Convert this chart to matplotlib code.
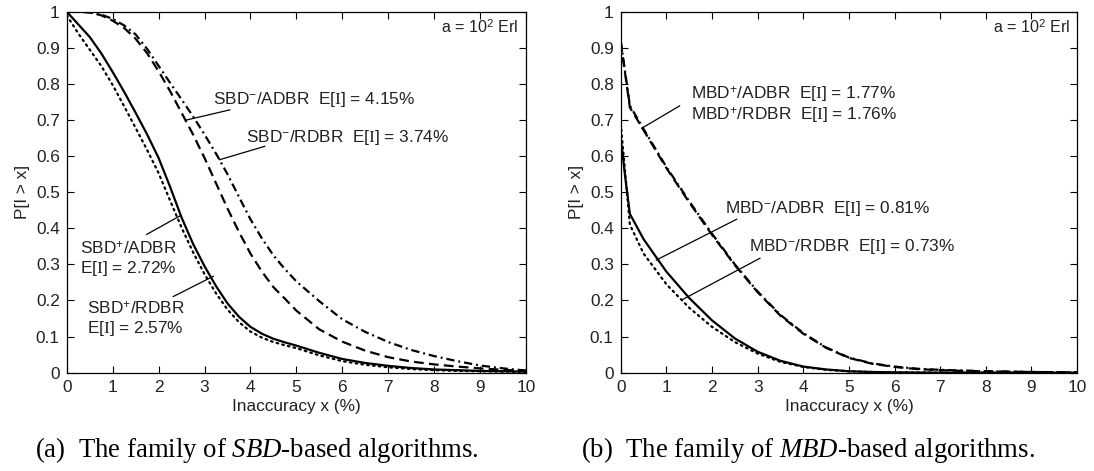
import matplotlib
matplotlib.use("Agg")
import matplotlib.pyplot as plt

# ---- data -----------------------------------------------------------------
x_sbd = [0, 0.25, 0.5, 0.75, 1, 1.25, 1.5, 1.75, 2, 2.25, 2.5, 2.75, 3, 3.25,
         3.5, 3.75, 4, 4.25, 4.5, 4.75, 5, 5.5, 6, 6.5, 7, 7.5, 8, 8.5, 9, 9.5, 10]
sbd_plus_adbr = [1.0, 0.965, 0.93, 0.885, 0.833, 0.778, 0.72, 0.66, 0.595, 0.515,
                 0.43, 0.357, 0.295, 0.24, 0.192, 0.155, 0.127, 0.108, 0.094,
                 0.084, 0.075, 0.055, 0.038, 0.027, 0.019, 0.013, 0.009, 0.007,
                 0.005, 0.004, 0.003]
sbd_plus_rdbr = [0.99, 0.94, 0.895, 0.85, 0.797, 0.738, 0.678, 0.617, 0.553, 0.477,
                 0.402, 0.334, 0.273, 0.22, 0.175, 0.14, 0.114, 0.097, 0.085,
                 0.076, 0.068, 0.048, 0.032, 0.022, 0.015, 0.010, 0.007, 0.005,
                 0.004, 0.003, 0.002]
sbd_minus_adbr = [1.0, 1.0, 0.998, 0.99, 0.975, 0.955, 0.925, 0.885, 0.835, 0.78,
                  0.72, 0.66, 0.595, 0.525, 0.455, 0.39, 0.33, 0.28, 0.237,
                  0.205, 0.172, 0.12, 0.086, 0.061, 0.043, 0.031, 0.023, 0.017,
                  0.012, 0.008, 0.005]
sbd_minus_rdbr = [1.0, 1.0, 0.998, 0.992, 0.98, 0.962, 0.937, 0.897, 0.85, 0.803,
                  0.757, 0.71, 0.66, 0.607, 0.55, 0.487, 0.425, 0.372, 0.325,
                  0.287, 0.253, 0.198, 0.148, 0.113, 0.085, 0.063, 0.046, 0.032,
                  0.02, 0.012, 0.006]

x_mbd = [0, 0.1, 0.2, 0.5, 1, 1.5, 2, 2.5, 3, 3.5, 4, 4.5, 5, 5.5, 6, 6.5, 7,
         7.5, 8, 8.5, 9, 9.5, 10]
mbd_plus_adbr = [0.92, 0.83, 0.74, 0.675, 0.57, 0.475, 0.385, 0.30, 0.225, 0.16,
                 0.11, 0.07, 0.042, 0.026, 0.017, 0.011, 0.008, 0.006, 0.004,
                 0.003, 0.002, 0.0015, 0.001]
mbd_plus_rdbr = [0.915, 0.825, 0.735, 0.672, 0.567, 0.472, 0.382, 0.298, 0.223, 0.158,
                 0.108, 0.069, 0.041, 0.025, 0.016, 0.010, 0.007, 0.005, 0.004,
                 0.003, 0.002, 0.0015, 0.001]
mbd_minus_adbr = [0.65, 0.54, 0.44, 0.37, 0.28, 0.207, 0.145, 0.095, 0.058, 0.033,
                  0.017, 0.009, 0.004, 0.002, 0.001, 0.0005, 0, 0, 0, 0, 0, 0, 0]
mbd_minus_rdbr = [0.69, 0.55, 0.41, 0.33, 0.245, 0.18, 0.127, 0.085, 0.053, 0.03,
                  0.016, 0.008, 0.004, 0.002, 0.001, 0.0005, 0, 0, 0, 0, 0, 0, 0]

x_ticks = list(range(0, 11))
y_ticks = [0, 0.1, 0.2, 0.3, 0.4, 0.5, 0.6, 0.7, 0.8, 0.9, 1]
y_ticklabels = ["0", "0.1", "0.2", "0.3", "0.4", "0.5", "0.6", "0.7", "0.8", "0.9", "1"]

# ---- style ----------------------------------------------------------------
plt.rcParams["font.family"] = ["Liberation Sans", "DejaVu Sans"]
plt.rcParams["mathtext.fontset"] = "custom"
plt.rcParams["mathtext.rm"] = "Liberation Serif"
plt.rcParams["mathtext.it"] = "Liberation Serif:italic"
plt.rcParams["mathtext.sf"] = "Liberation Sans"
plt.rcParams["lines.scale_dashes"] = False

TXT = "#222222"
FS = 12.4
LW = 1.6
styles = {
    "solid": dict(ls="-"),
    "dotted": dict(ls=(0, (1.2, 3.0)), dash_capstyle="round"),
    "dashed": dict(ls=(0, (7.0, 3.8))),
    "dashdot": dict(ls=(0, (6.0, 2.8, 1.4, 2.8))),
}

fig = plt.figure(figsize=(10.94, 4.71), dpi=100)
ax1 = fig.add_axes([0.0610, 0.2087, 0.4198, 0.7665])
ax2 = fig.add_axes([0.5674, 0.2087, 0.4171, 0.7665])

ax1.plot(x_sbd, sbd_plus_adbr, color="k", lw=LW, **styles["solid"])
ax1.plot(x_sbd, sbd_plus_rdbr, color="k", lw=LW, **styles["dotted"])
ax1.plot(x_sbd, sbd_minus_adbr, color="k", lw=LW, **styles["dashed"])
ax1.plot(x_sbd, sbd_minus_rdbr, color="k", lw=LW, **styles["dashdot"])

ax2.plot(x_mbd, mbd_minus_adbr, color="k", lw=LW, **styles["solid"])
ax2.plot(x_mbd, mbd_minus_rdbr, color="k", lw=LW, **styles["dotted"])
ax2.plot(x_mbd, mbd_plus_rdbr, color="k", lw=LW, **styles["dashed"])
ax2.plot(x_mbd, mbd_plus_adbr, color="k", lw=LW, **styles["dashdot"])

for ax in (ax1, ax2):
    ax.set_xlim(0, 10)
    ax.set_ylim(0, 1)
    ax.set_xticks(x_ticks)
    ax.set_xticklabels([str(t) for t in x_ticks])
    ax.set_yticks(y_ticks)
    ax.set_yticklabels(y_ticklabels)
    ax.tick_params(direction="in", top=True, right=True, length=5, width=0.8,
                   labelsize=FS, labelcolor=TXT, pad=5)
    for sp in ax.spines.values():
        sp.set_linewidth(0.9)
    ax.set_xlabel("Inaccuracy x (%)", fontsize=FS, color=TXT, labelpad=3)
    ax.set_ylabel("P[I > x]", fontsize=FS, color=TXT, labelpad=4)
    ax.text(8.15, 0.958, r"a = 10$^{\mathsf{2}}$ Erl", fontsize=11.6, color=TXT,
            va="center", ha="left")

def note(ax, text, xy, xytext, tip):
    ax.text(xy[0], xy[1], text, fontsize=FS, color=TXT, va="center", ha="left",
            linespacing=1.1)
    if tip is not None:
        ax.plot([xytext[0], tip[0]], [xytext[1], tip[1]], color="k", lw=0.9)

EI = r"E[$\mathrm{I}$]"
note(ax1, r"SBD$^{\mathsf{-}}$/ADBR  " + EI + " = 4.15%", (3.18, 0.757),
     (3.55, 0.728), (2.61, 0.70))
note(ax1, r"SBD$^{\mathsf{-}}$/RDBR  " + EI + " = 3.74%", (3.91, 0.652),
     (4.31, 0.627), (3.33, 0.59))
note(ax1, r"SBD$^{\mathsf{+}}$/ADBR" + "\n" + EI + " = 2.72%", (0.28, 0.315),
     (1.74, 0.383), (2.46, 0.434))
note(ax1, r"SBD$^{\mathsf{+}}$/RDBR" + "\n" + EI + " = 2.57%", (0.44, 0.148),
     (2.32, 0.211), (3.19, 0.267))

note(ax2, r"MBD$^{\mathsf{+}}$/ADBR  " + EI + " = 1.77%" + "\n" +
     r"MBD$^{\mathsf{+}}$/RDBR  " + EI + " = 1.76%", (1.55, 0.740),
     (1.29, 0.739), (0.46, 0.677))
note(ax2, r"MBD$^{\mathsf{-}}$/ADBR  " + EI + " = 0.81%", (2.29, 0.455),
     (2.54, 0.425), (0.78, 0.312))
note(ax2, r"MBD$^{\mathsf{-}}$/RDBR  " + EI + " = 0.73%", (2.80, 0.349),
     (3.05, 0.317), (1.36, 0.203))

cap_kw = dict(fontsize=19.3, family=["Liberation Serif", "DejaVu Serif"],
              color="k", ha="center", va="center")
fig.text(257 / 1094, 1 - 450 / 471,
         r"(a)  The family of $\mathit{SBD}$-based algorithms.", **cap_kw)
fig.text(808 / 1094, 1 - 450 / 471,
         r"(b)  The family of $\mathit{MBD}$-based algorithms.", **cap_kw)

fig.savefig("out.png", dpi=100)
